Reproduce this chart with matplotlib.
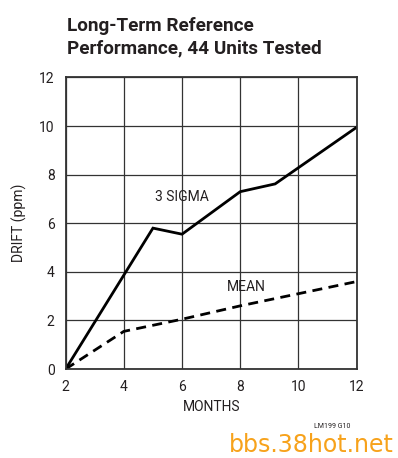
import matplotlib
matplotlib.use('Agg')
import matplotlib.pyplot as plt

# --- DATA ---
months_sigma = [2, 5, 6, 8, 9.2, 12]
drift_sigma = [0, 5.8, 5.55, 7.3, 7.62, 9.95]
months_mean = [2, 4, 6, 8, 10, 12]
drift_mean = [0, 1.55, 2.05, 2.6, 3.1, 3.6]
x_ticks = [2, 4, 6, 8, 10, 12]
y_ticks = [0, 2, 4, 6, 8, 10, 12]

TITLE = 'Long-Term Reference\nPerformance, 44 Units Tested'
INK = '#231f20'

plt.rcParams['font.family'] = ['Roboto', 'Liberation Sans', 'DejaVu Sans']

fig = plt.figure(figsize=(3.98, 4.58), dpi=100)
ax = fig.add_axes([0.165, 0.1943, 0.731, 0.6365])

ax.plot(months_sigma, drift_sigma, color='black', linewidth=2.0, solid_joinstyle='miter')
ax.plot(months_mean, drift_mean, color='black', linewidth=2.0, linestyle=(0, (3.6, 2.3)))

ax.text(6, 7.1, '3 SIGMA', ha='center', va='center', fontsize=10, color=INK)
ax.text(8.2, 3.38, 'MEAN', ha='center', va='center', fontsize=10, color=INK)

ax.set_xlim(2, 12)
ax.set_ylim(0, 12)
ax.set_xticks(x_ticks)
ax.set_yticks(y_ticks)
ax.tick_params(length=0, labelsize=10, pad=8, colors=INK)
ax.grid(True, color='#333333', linewidth=0.9)
ax.set_axisbelow(True)
for sp in ax.spines.values():
    sp.set_linewidth(1.3)
    sp.set_color('#333333')

ax.set_xlabel('MONTHS', fontsize=10, color=INK, labelpad=4)
ax.set_ylabel('DRIFT (ppm)', fontsize=10, color=INK, labelpad=9)

# title: baselines at ~33 px and ~58 px from the top
fig.text(0.168, 0.963, TITLE, ha='left', va='top', fontsize=13.6,
         fontweight='bold', color=INK, linespacing=1.33)
fig.text(0.79, 0.068, 'LM199 G10', ha='left', va='center', fontsize=5, color=INK)
fig.text(0.575, 0.029, 'bbs.38hot.net', ha='left', va='center', fontsize=17,
         color='#f7a21b', family=['DejaVu Sans'])

plt.savefig('out.png', dpi=100)
plt.close()
